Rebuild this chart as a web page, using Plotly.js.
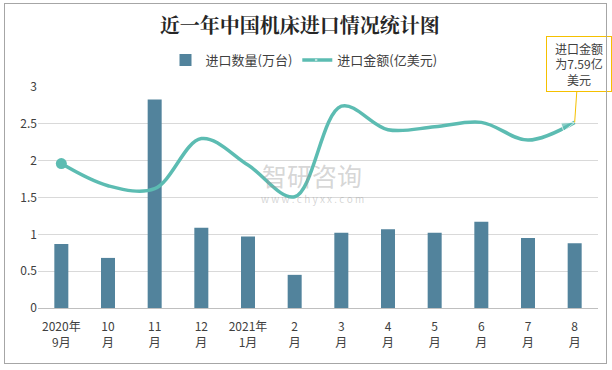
<!DOCTYPE html>
<html><head><meta charset="utf-8">
<script src="https://cdn.plot.ly/plotly-3.0.1.min.js"></script>
<style>
body{margin:0;padding:0;background:#fff;}
#frame{position:absolute;left:4px;top:3px;width:603px;height:361px;border:1px solid #a6a6a6;box-sizing:border-box;pointer-events:none;z-index:10;}
#chart{position:absolute;left:0;top:0;width:612px;height:370px;}
</style></head>
<body>
<div id="chart"></div><div id="frame"></div>
<script>
const categories = ['2020年<br>9月','10<br>月','11<br>月','12<br>月','2021年<br>1月','2<br>月','3<br>月','4<br>月','5<br>月','6<br>月','7<br>月','8<br>月'];
const quantity = [0.87,0.68,2.83,1.09,0.97,0.45,1.02,1.07,1.02,1.17,0.95,0.88];
const amount = [1.96,1.66,1.62,2.30,1.94,1.51,2.74,2.42,2.46,2.52,2.28,2.52];
const yTicks = [0,0.5,1,1.5,2,2.5,3];
const yTickText = ['0','0.5','1','1.5','2','2.5','3'];

const font = "'Microsoft YaHei','Noto Sans CJK SC','Noto Sans',sans-serif";
const n = amount.length;
const lineColor = '#5cbcb2';
const arrowSizes = amount.map((v,i)=> i===n-1 ? 14 : 0);

const traces = [
 {type:'bar', name:'进口数量(万台)', x:categories, y:quantity, width:0.3,
  marker:{color:'#52839c', line:{width:0}}},
 {type:'scatter', mode:'lines+markers', name:'进口金额(亿美元)', x:categories, y:amount,
  line:{color:lineColor, width:3.5, shape:'spline', smoothing:1},
  marker:{color:lineColor, size:arrowSizes, symbol:'arrow', angleref:'previous'}},
 {type:'scatter', mode:'markers', showlegend:false, x:[categories[0]], y:[amount[0]],
  marker:{color:lineColor, size:11, symbol:'circle'}}
];

const layout = {
 width:612, height:370,
 margin:{l:38, r:14, t:87, b:62},
 paper_bgcolor:'#ffffff', plot_bgcolor:'#ffffff',
 font:{family:font, size:12, color:'#404040'},
 title:{text:'近一年中国机床进口情况统计图', x:0.49, xanchor:'center', y:0.93, yanchor:'middle',
        font:{family:"'Noto Serif CJK SC','Noto Sans CJK SC',serif", size:20, color:'#262626', weight:'bold'}},
 showlegend:true,
 legend:{orientation:'h', x:0.475, xanchor:'center', y:1.122, yanchor:'middle',
         font:{size:13, color:'#404040'}, traceorder:'normal', itemwidth:30},
 xaxis:{type:'category', range:[-0.5, n-0.5], autorange:false, tickfont:{size:12, color:'#404040'},
        showline:true, linecolor:'#bfbfbf', linewidth:1,
        ticks:'', showgrid:false, fixedrange:true, automargin:false, ticklabelstandoff:8},
 yaxis:{range:[0,3], tickvals:yTicks, ticktext:yTickText, showgrid:true, gridcolor:'#d9d9d9', gridwidth:1,
        zeroline:false, showline:false, ticks:'', tickfont:{size:12, color:'#404040'}, fixedrange:true, automargin:false},
 annotations:[
  {xref:'paper', yref:'paper', x:0.49, y:0.6, text:'智研咨询', showarrow:false,
   font:{size:25, color:'rgba(150,150,150,0.4)'}},
  {xref:'paper', yref:'paper', x:0.49, y:0.495, text:'w w w . c h y x x . c o m', showarrow:false,
   font:{size:10, color:'rgba(150,150,150,0.4)'}},
  {xref:'x', yref:'y', x:categories[n-1], y:amount[n-1], text:'进口金额<br>为7.59亿<br>美元',
   showarrow:true, arrowhead:0, arrowwidth:1, arrowcolor:'#f5c000', ax:4, ay:-58,
   width:60, height:50,
   bordercolor:'#f5c000', borderwidth:1, borderpad:2, bgcolor:'#ffffff',
   font:{size:12, color:'#404040'}, align:'center'}
 ]
};
Plotly.newPlot('chart', traces, layout, {displayModeBar:false, staticPlot:true});
</script>
</body></html>
